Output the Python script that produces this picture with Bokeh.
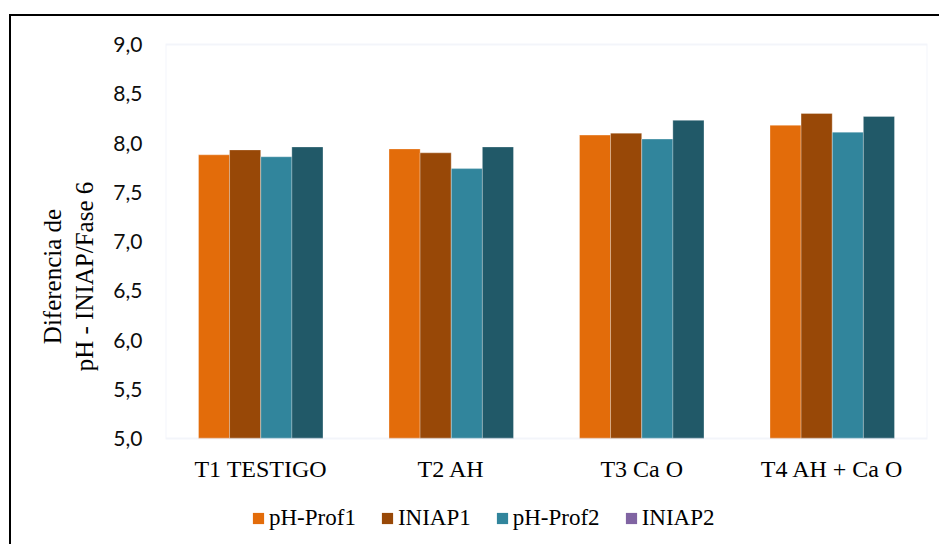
from bokeh.plotting import figure
from bokeh.models import (FactorRange, Range1d, FixedTicker, CustomJSTickFormatter,
                          ColumnDataSource, Legend, LegendItem, BoxAnnotation)
from bokeh.core.properties import value
from bokeh.transform import dodge
from bokeh.embed import file_html
from bokeh.resources import INLINE

categories = ["T1 TESTIGO", "T2 AH", "T3 Ca O", "T4 AH + Ca O"]
ph_prof1 = [7.88, 7.94, 8.08, 8.18]
iniap1 = [7.93, 7.90, 8.10, 8.30]
ph_prof2 = [7.86, 7.74, 8.04, 8.11]
iniap2 = [7.96, 7.96, 8.23, 8.27]
series_names = ["pH-Prof1", "INIAP1", "pH-Prof2", "INIAP2"]
bar_colors = ["#E36C0A", "#984807", "#31859C", "#215968"]
legend_colors = ["#E36C0A", "#984807", "#31859C", "#8064A2"]
yticks = [5.0, 5.5, 6.0, 6.5, 7.0, 7.5, 8.0, 8.5, 9.0]
ytick_labels = ["5,0", "5,5", "6,0", "6,5", "7,0", "7,5", "8,0", "8,5", "9,0"]
y_title = "Diferencia de\npH - INIAP/Fase 6"

source = ColumnDataSource(dict(cat=categories, s0=ph_prof1, s1=iniap1, s2=ph_prof2, s3=iniap2))

# layout: the frame is extended above/below the 5-9 value band so the legend fits inside it
px_per_unit = 394 / 4.0
y_lo = yticks[0] - 98 / px_per_unit
y_hi = yticks[-1] + 28 / px_per_unit

p = figure(width=930, height=530, x_range=FactorRange(factors=categories, range_padding=0),
           y_range=Range1d(y_lo, y_hi), output_backend="svg", toolbar_location=None,
           min_border_left=154, min_border_right=14, min_border_top=0, min_border_bottom=10)
p.styles = {"margin-left": "9px", "margin-top": "14px",
            "border-left": "2px solid black", "border-top": "2px solid black"}

p.background_fill_color = "white"
p.border_fill_color = "white"
p.outline_line_color = None
p.xgrid.visible = False
p.ygrid.visible = False
p.xaxis.visible = False

# plot-area border around the value band
p.add_layout(BoxAnnotation(bottom=yticks[0], top=yticks[-1], fill_alpha=0,
                           line_color="#D6DFEE", line_width=2))

bw = 0.1635
offsets = [-0.245, -0.082, 0.082, 0.245]
for i, off in enumerate(offsets):
    p.vbar(x=dodge("cat", off, range=p.x_range), top="s%d" % i, bottom=yticks[0], width=bw,
           source=source, fill_color=bar_colors[i], line_color="white", line_alpha=0.3,
           line_width=1)

# category labels
p.text(x="cat", y=yticks[0], text="cat", source=source, y_offset=30,
       text_align="center", text_baseline="middle",
       text_font=value("Liberation Serif"), text_font_size=value("24px"),
       text_color="black")

# y axis
p.yaxis.ticker = FixedTicker(ticks=yticks)
p.yaxis.formatter = CustomJSTickFormatter(args=dict(tvals=yticks, tlabels=ytick_labels),
    code="const i = tvals.findIndex(t => Math.abs(t - tick) < 1e-9); return i >= 0 ? tlabels[i] : '';")
p.yaxis.axis_line_color = None
p.yaxis.major_tick_line_color = None
p.yaxis.minor_tick_line_color = None
p.yaxis.major_label_standoff = 17
p.yaxis.major_label_text_font = "Lato"
p.yaxis.major_label_text_font_size = "21px"
p.yaxis.major_label_text_color = "#0D0D0D"
p.yaxis.axis_label = y_title
p.yaxis.axis_label_text_font = "Liberation Serif"
p.yaxis.axis_label_text_font_style = "normal"
p.yaxis.axis_label_text_font_size = "25px"
p.yaxis.axis_label_text_color = "black"
p.yaxis.axis_label_standoff = 12

# legend (INIAP2 shown purple as in the original); zero-width proxy bars
items = []
for i, name in enumerate(series_names):
    r = p.vbar(x=dodge("cat", offsets[i], range=p.x_range), top="s%d" % i, bottom=yticks[0],
               width=0, source=source, fill_color=legend_colors[i], line_color=None)
    items.append(LegendItem(label=name, renderers=[r]))
legend = Legend(items=items, orientation="horizontal", location=(86, 5),
                glyph_width=14, glyph_height=14, label_standoff=4, spacing=24,
                padding=0, margin=0, border_line_color=None, background_fill_alpha=0,
                label_text_font="Liberation Serif", label_text_font_size="23px",
                label_text_color="black")
p.add_layout(legend)

open("out.html", "w").write(file_html(p, INLINE))
